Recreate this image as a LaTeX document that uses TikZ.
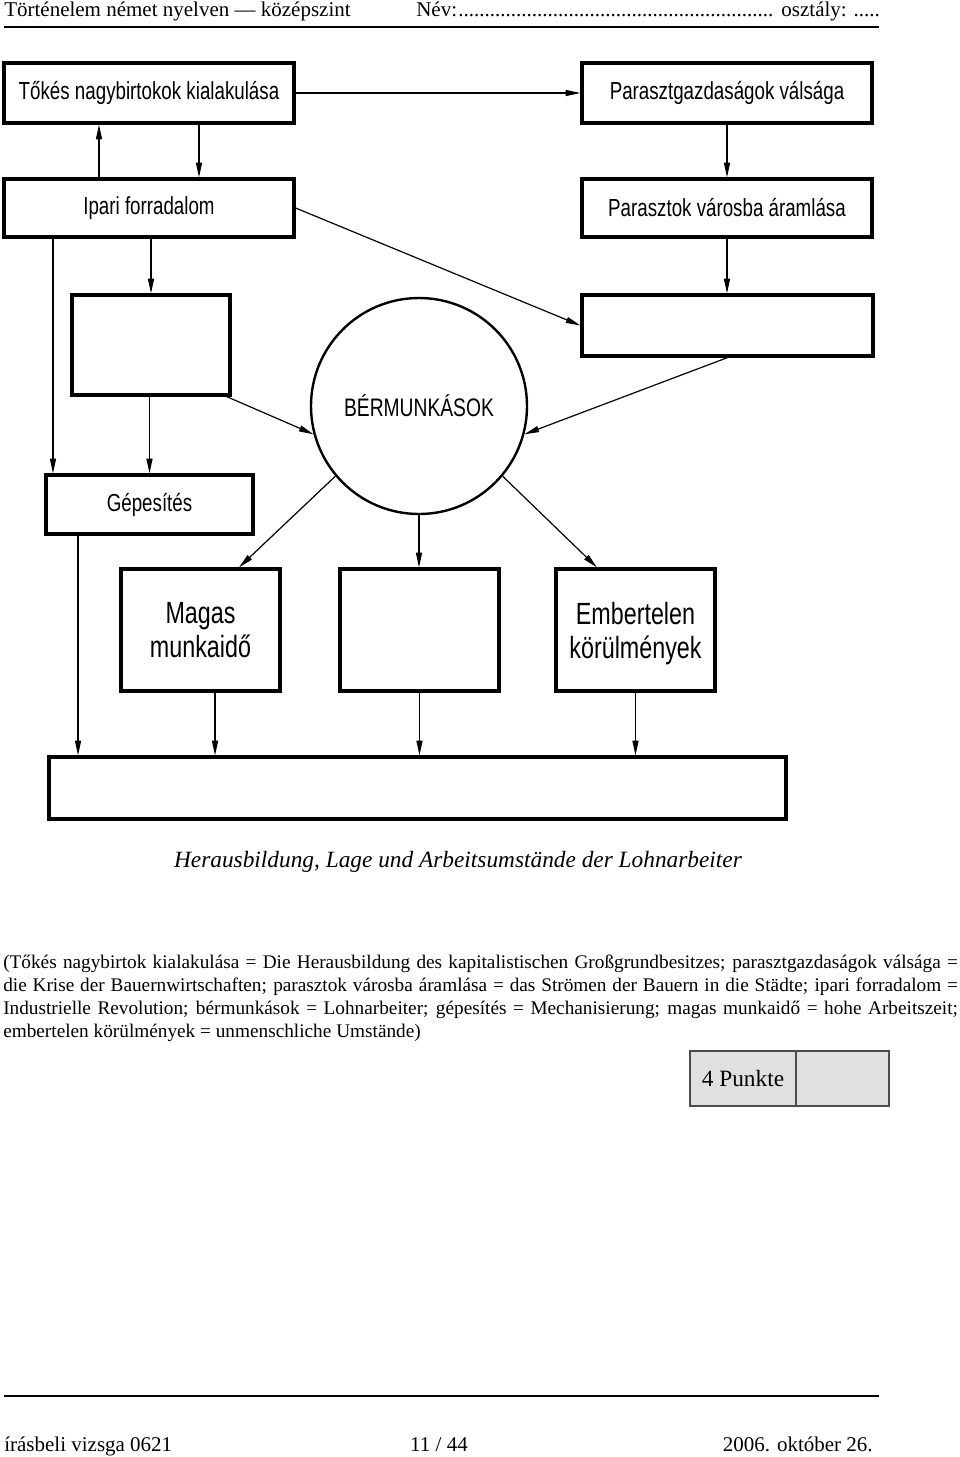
\documentclass[tikz,border=0pt]{standalone}
\usepackage{fontspec}
\setmainfont{Liberation Serif}
\newfontfamily\kastenfont[FakeStretch=0.76]{Liberation Sans}
\usepackage{tikz}
\usetikzlibrary{positioning}
\usetikzlibrary{arrows.meta}

\tikzset{
	kasten/.style={draw,line width=2.4pt,rectangle,align=center,inner sep=0pt,font=\kastenfont\fontsize{18.5}{22}\selectfont},
	pfeil/.style={line width=0.9pt,-{Triangle[length=11pt,width=4.5pt]}},
	zeile/.style={inner sep=0pt,font=\fontsize{15.75}{18}\selectfont},
	punktfeld/.style={draw=black!70,fill=black!12,line width=0.8pt,minimum height=41.25pt,inner sep=0pt},
}

\begin{document}
\begin{tikzpicture}[x=0.75pt,y=-0.75pt]
	\useasboundingbox (0,0) rectangle (960,1457);
	%% kopf
	\node[zeile,anchor=base west] (kopf) at (4,16) {Történelem német nyelven — középszint};
	\node[zeile,anchor=base west] (name) at (416,16) {Név:\leaders\hbox{.}\hskip 238pt\relax{} osztály: .....};
	\draw[line width=1.5pt] (4,27) -- (879,27);
	%% kaesten
	\node[kasten,minimum width=217.5pt,minimum height=45pt] (tokes) at (149,93) {Tőkés nagybirtokok kialakulása};
	\node[kasten,minimum width=217.5pt,minimum height=45pt,right=213.6pt of tokes] (valsag) {Parasztgazdaságok válsága};
	\node[kasten,minimum width=217.5pt,minimum height=43.5pt,below=39.6pt of tokes] (ipari) {Ipari forradalom};
	\node[kasten,minimum width=217.5pt,minimum height=43.5pt,below=39.6pt of valsag] (varos) {Parasztok városba áramlása};
	\node[kasten,minimum width=118.5pt,minimum height=75pt] (ures1) at (151,345) {};
	\node[kasten,minimum width=218.25pt,minimum height=45.75pt] (ures2) at (727.5,325.5) {};
	\node[draw,circle,line width=1.8pt,minimum size=162pt,inner sep=0pt,font=\kastenfont\fontsize{19}{22}\selectfont] (berm) at (419,406) {BÉRMUNKÁSOK};
	\node[kasten,minimum width=155.25pt,minimum height=44.25pt] (gepes) at (149.5,504.5) {Gépesítés};
	\node[kasten,minimum width=119.25pt,minimum height=91.5pt,font=\kastenfont\fontsize{23}{25.5}\selectfont] (magas) at (200.5,630) {Magas\\munkaidő};
	\node[kasten,minimum width=119.25pt,minimum height=91.5pt] (ures3) at (419.5,630) {};
	\node[kasten,minimum width=119.25pt,minimum height=91.5pt,font=\kastenfont\fontsize{23}{25.5}\selectfont] (ember) at (635.5,630) {Embertelen\\\raisebox{0pt}[\height][0pt]{körülmények}};
	\node[kasten,minimum width=552.75pt,minimum height=46.5pt] (also) at (417.5,788) {};
	% pfeile
	\coordinate (i1) at ([xshift=-72pt]ipari.south);
	\coordinate (g1) at ([xshift=-53.6pt]gepes.south);
	\coordinate (m1) at ([xshift=10.9pt]magas.south);
	\draw[pfeil] (tokes) -- (valsag);
	\draw[pfeil] ([xshift=-37.5pt]ipari.north) -- ([xshift=-37.5pt]tokes.south);
	\draw[pfeil] ([xshift=37.5pt]tokes.south) -- ([xshift=37.5pt]ipari.north);
	\draw[pfeil] (valsag) -- (varos);
	\draw[pfeil] (varos.south) -- (varos.south |- ures2.north);
	\draw[pfeil] (ipari.east) -- (ures2.west);
	\draw[pfeil] (ures1.north |- ipari.south) -- (ures1.north);
	\draw[pfeil] (i1) -- (i1 |- gepes.north);
	\draw[pfeil] (gepes.north |- ures1.south) -- (gepes.north);
	\draw[pfeil] ([xshift=-3.75pt]ures1.south east) -- (berm.195);
	\draw[pfeil] (ures2.south) -- (berm.345);
	\draw[pfeil] (berm.220) -- ([xshift=28.9pt]magas.north);
	\draw[pfeil] (berm.south) -- (berm.south |- ures3.north);
	\draw[pfeil] (berm.320) -- ([xshift=-28.9pt]ember.north);
	\draw[pfeil] (g1) -- (g1 |- also.north);
	\draw[pfeil] (m1) -- (m1 |- also.north);
	\draw[pfeil] (ures3.south) -- (ures3.south |- also.north);
	\draw[pfeil] (ember.south) -- (ember.south |- also.north);
	%% text
	\node[font=\itshape\fontsize{17.5}{20}\selectfont] (titel) at (458,862) {Herausbildung, Lage und Arbeitsumstände der Lohnarbeiter};
	\node[anchor=north west,text width=716pt,align=justify,inner sep=0pt,font=\fontsize{14.45}{17.25}\selectfont] (erkl) at (3,955) {(Tőkés nagybirtok kialakulása = Die Herausbildung des kapitalistischen Großgrundbesitzes; parasztgazdaságok válsága =\linebreak die Krise der Bauernwirtschaften; parasztok városba áramlása = das Strömen der Bauern in die Städte; ipari forradalom =\linebreak Industrielle Revolution; bérmunkások = Lohnarbeiter; gépesítés = Mechanisierung; magas munkaidő = hohe Arbeitszeit;\linebreak embertelen körülmények = unmenschliche Umstände)};
	\node[punktfeld,minimum width=79.5pt,font=\fontsize{17.5}{20}\selectfont] (punkte) at (743,1078.5) {4 Punkte};
	\node[punktfeld,minimum width=69.75pt,right=-0.8pt of punkte] (leer) {};
	%% fuss
	\draw[line width=1.5pt] (4,1396) -- (879,1396);
	\node[zeile,anchor=base west] (fuss1) at (4,1451) {írásbeli vizsga 0621};
	\node[zeile,anchor=base] (fuss2) at (439,1451) {11 / 44};
	\node[zeile,anchor=base east] (fuss3) at (873,1451) {2006. október 26.};
\end{tikzpicture}
\end{document}
